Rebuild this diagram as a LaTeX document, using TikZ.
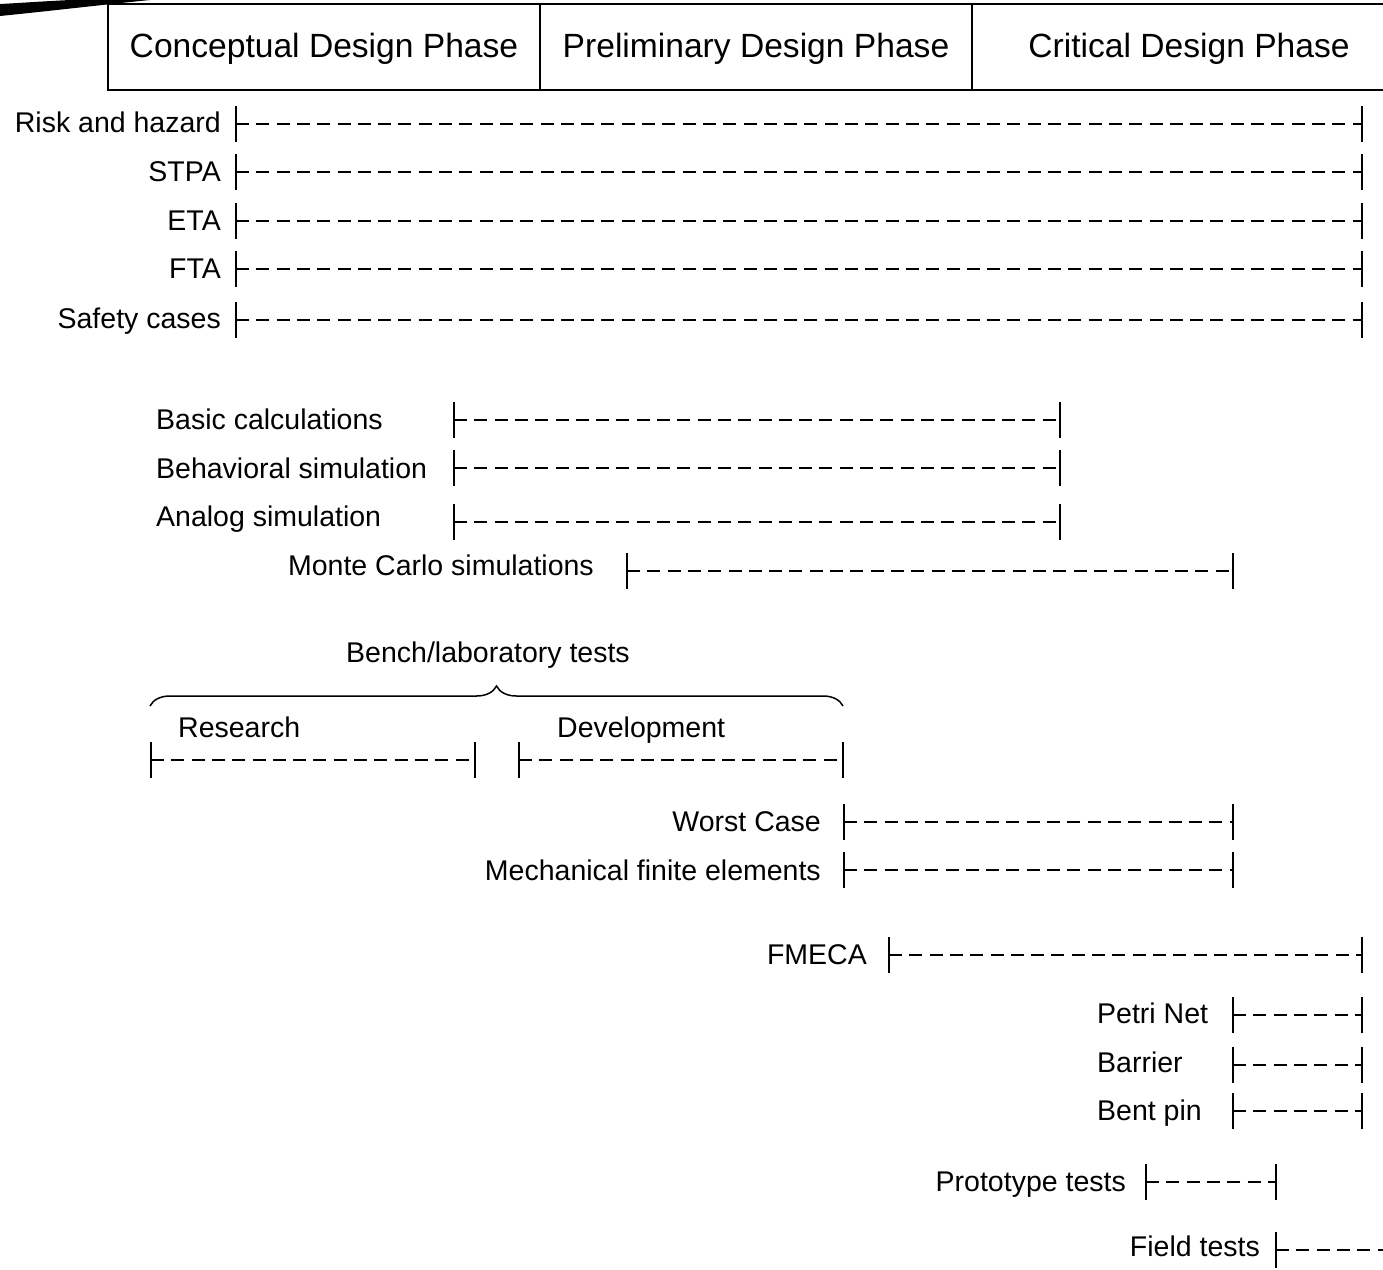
\documentclass[tikz,border=0pt]{standalone}
\usepackage{fontspec}
\setmainfont{Liberation Sans}
\usetikzlibrary{calc,decorations.pathreplacing}
\begin{document}
\begin{tikzpicture}[x=1pt,y=-1pt,
  lbl/.style={font=\fontsize{28.5}{34}\selectfont, inner sep=0pt},
  hdr/.style={font=\fontsize{33.6}{40}\selectfont, inner sep=0pt},
  dashline/.style={line width=1.9pt, dash pattern=on 13pt off 7.3pt},
  tickline/.style={line width=1.9pt},
  boxline/.style={line width=1.8pt}]
\useasboundingbox (0,0) rectangle (1383,1269);
% cut-off wedge at top left
\fill (0,4) -- (0,16) .. controls (50,11) and (100,5) .. (150,0) -- (70,0) .. controls (40,1.5) and (20,3) .. cycle;
% header
\draw[boxline] (1420,4) -- (108,4) -- (108,90) -- (1420,90);
\draw[boxline] (540,4) -- (540,90);
\draw[boxline] (972,4) -- (972,90);
\node[hdr] (p1) at (324,49) {Conceptual Design Phase};
\node[hdr] (p2) at (756,49) {Preliminary Design Phase};
\node[hdr] (p3) at (1189,49) {Critical Design Phase};
% macro for an interval
\newcommand{\ivl}[4]{%
  \coordinate (#1s) at (#2,#4); \coordinate (#1e) at (#3,#4);
  \draw[dashline] (#1s) -- (#1e);
  \draw[tickline] ($(#1s)+(0,-18)$) -- ($(#1s)+(0,18)$);
  \draw[tickline] ($(#1e)+(0,-18)$) -- ($(#1e)+(0,18)$);}
% group 1
\node[lbl, anchor=base east] (l1) at (221,132) {Risk and hazard};
\ivl{r1}{236}{1362}{124}
\node[lbl, anchor=base east] (l2) at (221,181) {STPA};
\ivl{r2}{236}{1362}{172}
\node[lbl, anchor=base east] (l3) at (221,230) {ETA};
\ivl{r3}{236}{1362}{221}
\node[lbl, anchor=base east] (l4) at (221,278) {FTA};
\ivl{r4}{236}{1362}{269}
\node[lbl, anchor=base east] (l5) at (221,328) {Safety cases};
\ivl{r5}{236}{1362}{320}
% group 2
\node[lbl, anchor=base west] (l6) at (156,429) {Basic calculations};
\ivl{r6}{454}{1060}{420}
\node[lbl, anchor=base west] (l7) at (156,478) {Behavioral simulation};
\ivl{r7}{454}{1060}{468}
\node[lbl, anchor=base west] (l8) at (156,526) {Analog simulation};
\ivl{r8}{454}{1060}{522}
\node[lbl, anchor=base east] (l9) at (594,575) {Monte Carlo simulations};
\ivl{r9}{627}{1233}{571}
% bench tests
\node[lbl, anchor=base] (bench) at (488,662) {Bench/laboratory tests};
\coordinate (bl) at (150,706); \coordinate (br) at (843,706);
\draw[line width=1.5pt, decorate, decoration={brace, amplitude=20pt, aspect=0.5}] (bl) -- (br);
\node[lbl, anchor=base west] (res) at (178,737) {Research};
\ivl{r10}{151}{475}{760}
\node[lbl, anchor=base west] (dev) at (557,737) {Development};
\ivl{r11}{519}{843}{760}
% group 3
\node[lbl, anchor=base east] (l12) at (821,831) {Worst Case};
\ivl{r12}{844}{1233}{822}
\node[lbl, anchor=base east] (l13) at (821,880) {Mechanical finite elements};
\ivl{r13}{844}{1233}{870}
\node[lbl, anchor=base east] (l14) at (867,964) {FMECA};
\ivl{r14}{889}{1362}{955}
\node[lbl, anchor=base west] (l15) at (1097,1023) {Petri Net};
\ivl{r15}{1233}{1362}{1015}
\node[lbl, anchor=base west] (l16) at (1097,1072) {Barrier};
\ivl{r16}{1233}{1362}{1065}
\node[lbl, anchor=base west] (l17) at (1097,1120) {Bent pin};
\ivl{r17}{1233}{1362}{1111}
\node[lbl, anchor=base east] (l18) at (1126,1191) {Prototype tests};
\ivl{r18}{1146}{1276}{1182}
\node[lbl, anchor=base east] (l19) at (1260,1256) {Field tests};
\coordinate (r19s) at (1276,1250); \coordinate (r19e) at (1400,1250);
\draw[dashline] (r19s) -- (r19e);
\draw[tickline] ($(r19s)+(0,-18)$) -- ($(r19s)+(0,18)$);
\end{tikzpicture}
\end{document}
